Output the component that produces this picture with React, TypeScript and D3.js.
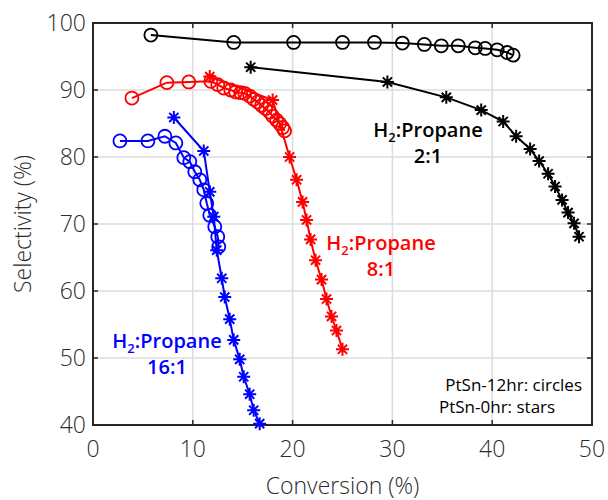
import * as d3 from "d3";
import { useEffect, useRef } from "react";

// PtSn-12hr (circles)
const circ2X = [5.8, 14.1, 20.1, 25.0, 28.2, 31.0, 33.2, 34.9, 36.6, 38.3, 39.3, 40.5, 41.5, 42.1];
const circ2Y = [98.2, 97.1, 97.1, 97.1, 97.1, 97.0, 96.8, 96.6, 96.6, 96.3, 96.2, 96.0, 95.6, 95.2];
const circ8X = [3.9, 7.4, 9.6, 11.8, 12.5, 13.1, 13.8, 14.3, 14.8, 15.2, 15.7, 16.1, 16.5, 16.9, 17.3, 17.7, 18.0, 18.4, 18.7, 19.0, 19.2];
const circ8Y = [88.8, 91.1, 91.2, 91.3, 90.8, 90.3, 90.0, 89.7, 89.6, 89.5, 89.1, 88.6, 88.2, 87.7, 87.2, 86.7, 86.1, 85.5, 85.0, 84.4, 83.9];
const circ16X = [2.7, 5.5, 7.2, 8.3, 9.1, 9.7, 10.2, 10.7, 11.1, 11.4, 11.7, 12.2, 12.5, 12.6];
const circ16Y = [82.4, 82.4, 83.1, 82.1, 79.9, 79.3, 77.8, 76.6, 75.1, 73.1, 71.3, 69.6, 68.1, 66.6];

// PtSn-0hr (stars)
const star2X = [15.8, 29.5, 35.4, 38.9, 41.1, 42.4, 43.8, 44.7, 45.6, 46.3, 47.0, 47.6, 48.2, 48.7];
const star2Y = [93.4, 91.2, 88.9, 87.0, 85.3, 83.1, 81.2, 79.4, 77.5, 75.6, 73.6, 71.7, 70.1, 68.1];
const star8X = [11.7, 18.0, 19.7, 20.4, 21.0, 21.4, 21.8, 22.3, 22.9, 23.4, 23.9, 24.4, 25.0];
const star8Y = [92.0, 88.5, 80.0, 76.6, 73.3, 70.6, 67.7, 64.6, 61.7, 58.8, 56.2, 54.1, 51.3];
const star16X = [8.1, 11.1, 11.7, 12.1, 12.4, 12.9, 13.2, 13.7, 14.1, 14.7, 15.1, 15.7, 16.1, 16.7];
const star16Y = [85.9, 80.9, 74.8, 71.1, 66.1, 61.9, 59.1, 55.8, 52.7, 49.8, 47.2, 44.6, 42.2, 40.2];

const xTicks = [0, 10, 20, 30, 40, 50];
const yTicks = [40, 50, 60, 70, 80, 90, 100];

const series = [
  { xs: circ2X, ys: circ2Y, color: "#000", marker: "circle" },
  { xs: star2X, ys: star2Y, color: "#000", marker: "star" },
  { xs: circ8X, ys: circ8Y, color: "#ff0000", marker: "circle" },
  { xs: star8X, ys: star8Y, color: "#ff0000", marker: "star" },
  { xs: circ16X, ys: circ16Y, color: "#0000ff", marker: "circle" },
  { xs: star16X, ys: star16Y, color: "#0000ff", marker: "star" },
];

const W = 608;
const H = 500;
const margin = { top: 23, right: 16, bottom: 75, left: 93 };

const App = () => {
  const ref = useRef<SVGSVGElement>(null);

  useEffect(() => {
    document.body.style.margin = "0";
    const svg = d3.select(ref.current);
    svg.selectAll("*").remove();

    const x = d3.scaleLinear().domain([0, 50]).range([margin.left, W - margin.right]);
    const y = d3.scaleLinear().domain([40, 100]).range([H - margin.bottom, margin.top]);
    const font = "'Open Sans', 'Noto Sans', sans-serif";
    const axisColor = "#262626";
    const textColor = "#2b2b2b";

    // grid
    const g = svg.append("g");
    g.selectAll(".gx").data(xTicks.slice(1, -1)).enter().append("line")
      .attr("x1", d => x(d)).attr("x2", d => x(d))
      .attr("y1", y(40)).attr("y2", y(100))
      .attr("stroke", "#dcdcdc").attr("stroke-width", 1.5);
    g.selectAll(".gy").data(yTicks.slice(1, -1)).enter().append("line")
      .attr("x1", x(0)).attr("x2", x(50))
      .attr("y1", d => y(d)).attr("y2", d => y(d))
      .attr("stroke", "#dcdcdc").attr("stroke-width", 1.5);

    // ticks (inward, all sides)
    const tl = 5;
    xTicks.forEach(t => {
      g.append("line").attr("x1", x(t)).attr("x2", x(t)).attr("y1", y(40)).attr("y2", y(40) - tl)
        .attr("stroke", axisColor).attr("stroke-width", 1.5);
      g.append("line").attr("x1", x(t)).attr("x2", x(t)).attr("y1", y(100)).attr("y2", y(100) + tl)
        .attr("stroke", axisColor).attr("stroke-width", 1.5);
      g.append("text").attr("x", x(t)).attr("y", y(40) + 32).attr("text-anchor", "middle")
        .attr("font-family", font).attr("font-weight", 300).attr("font-size", 23).attr("fill", textColor).text(t);
    });
    yTicks.forEach(t => {
      g.append("line").attr("x1", x(0)).attr("x2", x(0) + tl).attr("y1", y(t)).attr("y2", y(t))
        .attr("stroke", axisColor).attr("stroke-width", 1.5);
      g.append("line").attr("x1", x(50)).attr("x2", x(50) - tl).attr("y1", y(t)).attr("y2", y(t))
        .attr("stroke", axisColor).attr("stroke-width", 1.5);
      g.append("text").attr("x", x(0) - 7).attr("y", y(t) + 8).attr("text-anchor", "end")
        .attr("font-family", font).attr("font-weight", 300).attr("font-size", 23).attr("fill", textColor).text(t);
    });

    g.append("rect").attr("x", x(0)).attr("y", y(100))
      .attr("width", x(50) - x(0)).attr("height", y(40) - y(100))
      .attr("fill", "none").attr("stroke", axisColor).attr("stroke-width", 2);

    // axis titles
    svg.append("text").attr("x", (x(0) + x(50)) / 2).attr("y", 494).attr("text-anchor", "middle")
      .attr("font-family", font).attr("font-weight", 300).attr("font-size", 23).attr("fill", textColor).text("Conversion (%)");
    svg.append("text").attr("transform", `translate(31,${(y(40) + y(100)) / 2}) rotate(-90)`)
      .attr("text-anchor", "middle")
      .attr("font-family", font).attr("font-weight", 300).attr("font-size", 23).attr("fill", textColor).text("Selectivity (%)");

    // series
    const line = d3.line<[number, number]>().x(d => x(d[0])).y(d => y(d[1]));
    const r = 6.5;
    const starPath = (() => {
      let p = "";
      for (let i = 0; i < 4; i++) {
        const a = (i * Math.PI) / 4;
        const dx = Math.cos(a) * r, dy = Math.sin(a) * r;
        p += `M${-dx},${-dy}L${dx},${dy}`;
      }
      return p;
    })();

    series.forEach(s => {
      const pts: [number, number][] = s.xs.map((v, i) => [v, s.ys[i]]);
      svg.append("path").datum(pts).attr("d", line).attr("fill", "none")
        .attr("stroke", s.color).attr("stroke-width", 2);
      if (s.marker === "circle") {
        svg.append("g").selectAll("circle").data(pts).enter().append("circle")
          .attr("cx", d => x(d[0])).attr("cy", d => y(d[1])).attr("r", r)
          .attr("fill", "none").attr("stroke", s.color).attr("stroke-width", 1.8);
      } else {
        svg.append("g").selectAll("path").data(pts).enter().append("path")
          .attr("transform", d => `translate(${x(d[0])},${y(d[1])})`)
          .attr("d", starPath).attr("stroke", s.color).attr("stroke-width", 2);
      }
    });

    // annotations
    const label = (cx: number, by: number, ratio: string, color: string) => {
      const t = svg.append("text").attr("x", cx).attr("y", by).attr("text-anchor", "middle")
        .attr("font-family", font).attr("font-size", 20).attr("font-weight", 600).attr("fill", color);
      t.append("tspan").text("H");
      t.append("tspan").attr("font-size", 13).attr("dy", 5).text("2");
      t.append("tspan").attr("dy", -5).text(":Propane");
      svg.append("text").attr("x", cx).attr("y", by + 26).attr("text-anchor", "middle")
        .attr("font-family", font).attr("font-size", 20).attr("font-weight", 600).attr("fill", color)
        .text(ratio);
    };
    label(428, 137, "2:1", "#000");
    label(381, 250, "8:1", "#ff0000");
    label(167, 348, "16:1", "#0000ff");

    svg.append("text").attr("x", 582).attr("y", 391).attr("text-anchor", "end")
      .attr("font-family", font).attr("font-size", 17).attr("font-weight", 500).attr("fill", "#000")
      .text("PtSn-12hr: circles");
    svg.append("text").attr("x", 439).attr("y", 413).attr("text-anchor", "start")
      .attr("font-family", font).attr("font-size", 17).attr("font-weight", 500).attr("fill", "#000")
      .text("PtSn-0hr: stars");
  }, []);

  return <svg ref={ref} width={W} height={H} style={{ display: "block" }} />;
};

export default App;
